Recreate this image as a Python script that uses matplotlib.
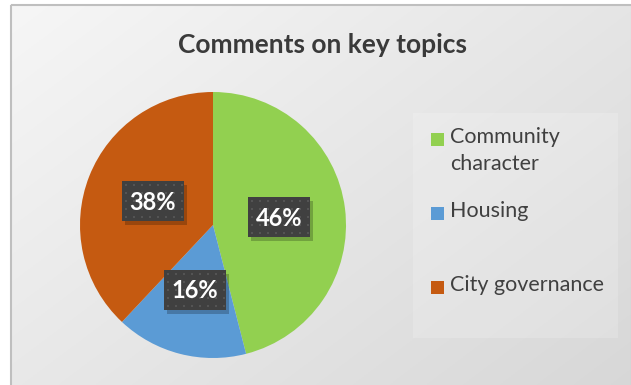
import numpy as np
import matplotlib
matplotlib.use("Agg")
import matplotlib.pyplot as plt
from matplotlib.patches import Rectangle

plt.rcParams["font.family"] = ["Lato", "DejaVu Sans"]

# ── Data ──────────────────────────────────────────────────────────────────────
topics = ["Community\ncharacter", "Housing", "City governance"]
shares = [46, 16, 38]
colors = ["#92D050", "#5B9BD5", "#C55A11"]
title = "Comments on key topics"

W, H = 631, 385
fig = plt.figure(figsize=(W / 100, H / 100), dpi=100, facecolor="white")

# ── Chart area: diagonal grey gradient with a thin border ─────────────────────
bg = fig.add_axes([0, 0, 1, 1])
bg.set_xlim(0, W)
bg.set_ylim(H, 0)
bg.axis("off")
yy, xx = np.mgrid[0:1:200j, 0:1:300j]
t = (xx * 0.55 + yy * 0.45)
shade = 0.965 - 0.12 * t
grad = np.dstack([shade, shade, shade])
bg.imshow(grad, extent=[10, W, H, 4], aspect="auto", zorder=0)
bg.add_patch(Rectangle((10.5, 4.5), W - 10, H, fill=False, ec="#BFBFBF", lw=1.5, zorder=1))

# legend panel
bg.add_patch(Rectangle((413, 113), 205, 225, fc="white", alpha=0.18, ec="none", zorder=1))

bg.text(322, 45, title, ha="center", va="center", fontsize=19, fontweight="bold",
        color="#3A3A3A", zorder=2)

# ── Pie ───────────────────────────────────────────────────────────────────────
cx, cy, r = 213, 225, 133
pie_ax = fig.add_axes([(cx - r) / W, 1 - (cy + r) / H, 2 * r / W, 2 * r / H])
pie_ax.set_aspect("equal")
wedges, _ = pie_ax.pie(shares, colors=colors, startangle=90, counterclock=False,
                       wedgeprops=dict(lw=0))
pie_ax.set_xlim(-1, 1)
pie_ax.set_ylim(-1, 1)

# overlay for the data labels, drawn above the pie
top = fig.add_axes([0, 0, 1, 1])
top.set_xlim(0, W)
top.set_ylim(H, 0)
top.axis("off")
top.patch.set_alpha(0)

label_pos = [(279, 217), (195, 290), (153, 201)]
for val, (px, py) in zip(shares, label_pos):
    bw, bh = 62, 40
    # shadow
    top.add_patch(Rectangle((px - bw / 2 + 3, py - bh / 2 + 4), bw, bh,
                            fc="black", alpha=0.22, ec="none", zorder=3))
    top.add_patch(Rectangle((px - bw / 2, py - bh / 2), bw, bh, fc="#404040",
                            ec="none", zorder=4))
    # dotted fill pattern
    dx = np.arange(px - bw / 2 + 4, px + bw / 2, 8)
    dy = np.arange(py - bh / 2 + 4, py + bh / 2, 8)
    gx, gy = np.meshgrid(dx, dy)
    top.scatter(gx.ravel(), gy.ravel(), s=4, marker="s", c="#545454", lw=0, zorder=5)
    top.text(px, py + 1, f"{val}%", ha="center", va="center", color="white",
             fontsize=17, fontweight="bold", zorder=6)

# ── Legend ────────────────────────────────────────────────────────────────────
leg_rows = [139, 213, 287]
for name, col, ly in zip(topics, colors, leg_rows):
    top.add_patch(Rectangle((431, ly - 6), 13, 13, fc=col, ec="none", zorder=3))
    top.text(450, ly - 12, name, ha="left", va="top", fontsize=15.5, color="#404040",
             linespacing=1.45, zorder=3)

fig.savefig("out.png", dpi=100)
